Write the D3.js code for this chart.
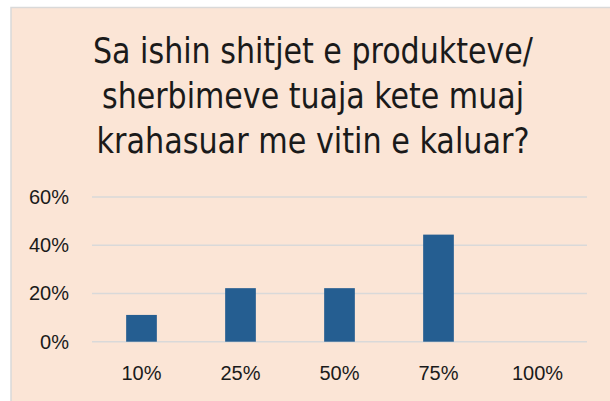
<!DOCTYPE html>
<html>
<head>
<meta charset="utf-8">
<script src="https://cdn.jsdelivr.net/npm/d3@7"></script>
<style>
  body { margin: 0; background: #fff; }
  text { font-family: "Liberation Sans", Arial, sans-serif; fill: #1a1a1a; }
</style>
</head>
<body>
<div class="chart"></div>
<script>
let titleLines = ["Sa ishin shitjet e produkteve/", "sherbimeve tuaja kete muaj", "krahasuar me vitin e kaluar?"];
let categories = ["10%", "25%", "50%", "75%", "100%"];
let values = [0.111, 0.222, 0.222, 0.444, 0];
let yTicks = [0, 0.2, 0.4, 0.6];

let svgWidth = 610;
let svgHeight = 401;

let svg = d3.select(".chart")
  .append("svg")
  .attr("width", svgWidth)
  .attr("height", svgHeight);

// chart area background + border
svg.append("rect")
  .attr("x", 11)
  .attr("y", 7.5)
  .attr("width", 620)
  .attr("height", 420)
  .attr("fill", "#FBE5D6")
  .attr("stroke", "#D9D9D9")
  .attr("stroke-width", 1.5);

// title
let titleWidths = [440, 422, 433];
let titleBase = [62.7, 107.5, 153];
svg.selectAll(".title")
  .data(titleLines)
  .enter()
  .append("text")
  .attr("class", "title")
  .attr("x", (d, i) => 313 - titleWidths[i] / 2)
  .attr("y", (d, i) => titleBase[i])
  .attr("textLength", (d, i) => titleWidths[i])
  .attr("lengthAdjust", "spacingAndGlyphs")
  .style("font-family", "'Liberation Sans Narrow', 'DejaVu Sans Condensed', sans-serif")
  .style("font-size", "35px")
  .text(d => d);

let margin = { top: 197, left: 92 };
let width = 587 - margin.left;
let height = 341.7 - margin.top;

let chartGroup = svg.append("g")
  .attr("transform", `translate(${margin.left}, ${margin.top})`);

let xScale = d3.scaleBand()
  .domain(categories)
  .range([0, width])
  .paddingInner(0.69)
  .paddingOuter(0.345);

let yScale = d3.scaleLinear()
  .domain([0, 0.6])
  .range([height, 0]);

// gridlines
chartGroup.selectAll(".grid")
  .data(yTicks)
  .enter()
  .append("line")
  .attr("x1", 0)
  .attr("x2", width)
  .attr("y1", d => yScale(d))
  .attr("y2", d => yScale(d))
  .attr("stroke", "#D9D9D9")
  .attr("stroke-width", 1.5);

// y axis labels
let leftAxis = d3.axisLeft(yScale)
  .tickValues(yTicks)
  .tickFormat(d3.format(".0%"))
  .tickSize(0)
  .tickPadding(23);

chartGroup.append("g")
  .call(leftAxis)
  .call(g => g.select(".domain").remove())
  .selectAll("text")
  .style("font-size", "20px")
  .style("font-family", "Liberation Sans, Arial, sans-serif")
  .attr("fill", "#1a1a1a");

// bars
chartGroup.selectAll(".bar")
  .data(values)
  .enter()
  .append("rect")
  .attr("x", (d, i) => xScale(categories[i]))
  .attr("y", d => yScale(d))
  .attr("width", xScale.bandwidth())
  .attr("height", d => height - yScale(d))
  .attr("fill", "#255E91");

// x axis labels
let bottomAxis = d3.axisBottom(xScale)
  .tickSize(0)
  .tickPadding(24);

chartGroup.append("g")
  .attr("transform", `translate(0, ${height})`)
  .call(bottomAxis)
  .call(g => g.select(".domain").remove())
  .selectAll("text")
  .style("font-size", "20px")
  .style("font-family", "Liberation Sans, Arial, sans-serif")
  .attr("fill", "#1a1a1a");
</script>
</body>
</html>
